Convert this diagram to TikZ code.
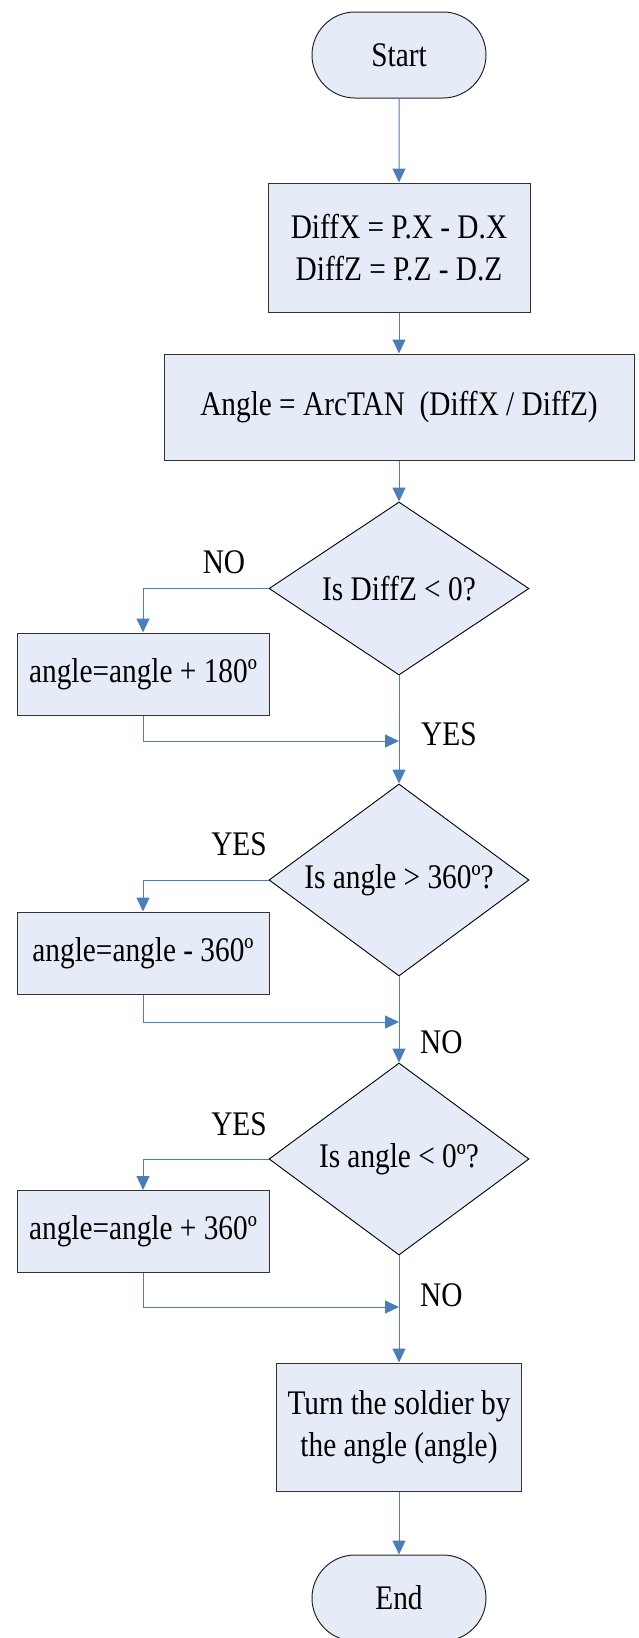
\documentclass[tikz,border=0pt]{standalone}
\usepackage{fontspec}
\setmainfont{Liberation Serif}[FakeStretch=0.85]
\usetikzlibrary{shapes.geometric,shapes.misc,arrows.meta}

\definecolor{boxfill}{RGB}{230,236,247}
\definecolor{flowblue}{RGB}{74,126,187}

\begin{document}
\begin{tikzpicture}[x=1pt,y=-1pt,
  every node/.style={inner sep=0pt,font=\fontsize{34.5}{42.5}\selectfont},
  term/.style={rounded rectangle,draw=black!85,fill=boxfill,line width=1pt,
    minimum width=174pt,minimum height=86pt},
  proc/.style={rectangle,draw=black!80,fill=boxfill,line width=1pt,align=center},
  decide/.style={diamond,draw=black,fill=boxfill,line width=0.9pt,aspect=1.5,
    minimum width=260pt},
  flow/.style={draw=flowblue,line width=1pt,-{Triangle[length=14pt,width=13pt]}},
  lbl/.style={anchor=base}]
\useasboundingbox (0,0) rectangle (638,1638);

% main column
\node[term] (start) at (399,55) {Start};
\node[proc,minimum width=262pt,minimum height=129pt] (diff) at (399,247.5)
  {DiffX = P.X - D.X\\DiffZ = P.Z - D.Z};
\node[proc,minimum width=470pt,minimum height=106pt] (ang) at (399,407)
  {Angle = ArcTAN~~(DiffX / DiffZ)};
\node[decide,minimum height=173pt] (q1) at (399,588.5) {Is DiffZ < 0?};
\node[decide,minimum height=192pt] (q2) at (399,880) {Is angle > 360º?};
\node[decide,minimum height=192pt] (q3) at (399,1159) {Is angle < 0º?};
\node[proc,minimum width=245pt,minimum height=128pt] (turn) at (399,1427)
  {Turn the soldier by\\the angle (angle)};
\node[term] (stop) at (399,1598) {End};

% corrections on the left
\node[proc,minimum width=252pt,minimum height=82pt] (fix1) at (143,674) {angle=angle + 180º};
\node[proc,minimum width=252pt,minimum height=82pt] (fix2) at (143,953) {angle=angle - 360º};
\node[proc,minimum width=252pt,minimum height=82pt] (fix3) at (143,1231.5) {angle=angle + 360º};

% where the branches come back
\coordinate (j1) at (399,741);
\coordinate (j2) at (399,1022);
\coordinate (j3) at (399,1307);

\draw[flow] (start) -- (diff);
\draw[flow] (diff) -- (ang);
\draw[flow] (ang) -- (q1);
\draw[flow] (q1.west) -| (fix1.north);
\draw[flow] (fix1.south) |- (j1);
\draw[flow] (q1.south) -- (q2.north);
\draw[flow] (q2.west) -| (fix2.north);
\draw[flow] (fix2.south) |- (j2);
\draw[flow] (q2.south) -- (q3.north);
\draw[flow] (q3.west) -| (fix3.north);
\draw[flow] (fix3.south) |- (j3);
\draw[flow] (q3.south) -- (turn.north);
\draw[flow] (turn) -- (stop);

% branch labels
\node[lbl] (no1) at (224,573) {NO};
\node[lbl,anchor=base west] (yes1) at (421,745) {YES};
\node[lbl] (yes2) at (239,855) {YES};
\node[lbl,anchor=base west] (no2) at (420,1053) {NO};
\node[lbl] (yes3) at (239,1135) {YES};
\node[lbl,anchor=base west] (no3) at (420,1306) {NO};
\end{tikzpicture}
\end{document}
